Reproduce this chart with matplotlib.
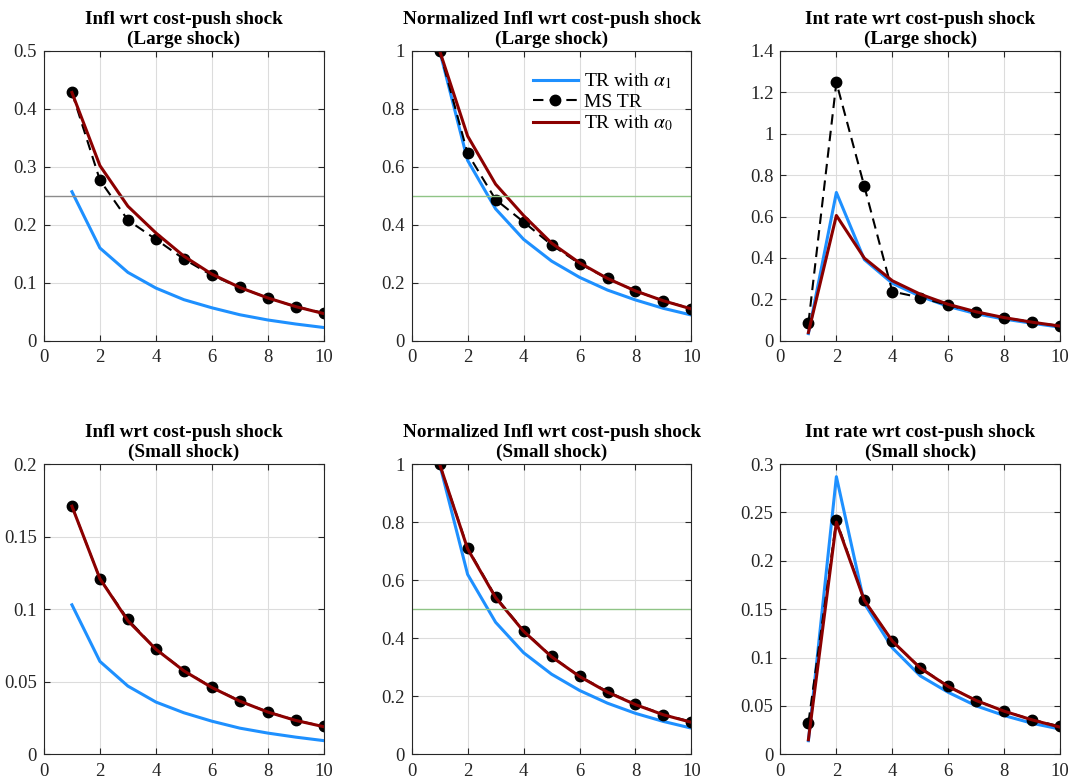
import matplotlib
matplotlib.use('Agg')
import matplotlib.pyplot as plt
from matplotlib.ticker import FuncFormatter, MultipleLocator

periods = [1, 2, 3, 4, 5, 6, 7, 8, 9, 10]

# Large shock
infl_large_a1 = [0.257, 0.160, 0.118, 0.091, 0.071, 0.057, 0.045, 0.036, 0.029, 0.023]
infl_large_ms = [0.428, 0.277, 0.208, 0.175, 0.141, 0.113, 0.092, 0.074, 0.059, 0.048]
infl_large_a0 = [0.428, 0.302, 0.232, 0.186, 0.146, 0.115, 0.092, 0.074, 0.059, 0.047]

norm_large_a1 = [1.0, 0.622, 0.455, 0.350, 0.275, 0.219, 0.175, 0.141, 0.112, 0.089]
norm_large_ms = [1.0, 0.646, 0.487, 0.410, 0.331, 0.266, 0.215, 0.172, 0.138, 0.111]
norm_large_a0 = [1.0, 0.706, 0.540, 0.432, 0.337, 0.269, 0.215, 0.172, 0.138, 0.110]

rate_large_a1 = [0.035, 0.716, 0.392, 0.278, 0.215, 0.166, 0.131, 0.105, 0.085, 0.066]
rate_large_ms = [0.085, 1.247, 0.745, 0.238, 0.209, 0.172, 0.138, 0.112, 0.090, 0.072]
rate_large_a0 = [0.040, 0.605, 0.399, 0.290, 0.225, 0.176, 0.140, 0.112, 0.090, 0.071]

# Small shock
infl_small_a1 = [0.103, 0.064, 0.047, 0.036, 0.0286, 0.0228, 0.018, 0.0146, 0.0118, 0.0094]
infl_small_ms = [0.171, 0.121, 0.093, 0.0725, 0.0577, 0.0462, 0.0367, 0.0292, 0.0234, 0.0192]
infl_small_a0 = [0.171, 0.121, 0.092, 0.0724, 0.0575, 0.0460, 0.0366, 0.0291, 0.0233, 0.0190]

norm_small_a1 = [1.0, 0.620, 0.455, 0.350, 0.276, 0.220, 0.176, 0.141, 0.113, 0.090]
norm_small_ms = [1.0, 0.711, 0.543, 0.426, 0.337, 0.269, 0.216, 0.172, 0.137, 0.112]
norm_small_a0 = [1.0, 0.708, 0.540, 0.424, 0.336, 0.268, 0.214, 0.171, 0.136, 0.110]

rate_small_a1 = [0.014, 0.287, 0.156, 0.110, 0.081, 0.064, 0.050, 0.040, 0.032, 0.026]
rate_small_ms = [0.0326, 0.242, 0.159, 0.117, 0.0895, 0.0703, 0.0555, 0.0446, 0.0357, 0.0288]
rate_small_a0 = [0.015, 0.240, 0.159, 0.117, 0.089, 0.070, 0.0555, 0.0445, 0.0355, 0.028]

plt.rcParams['font.family'] = ['Liberation Serif', 'DejaVu Serif']
plt.rcParams['mathtext.fontset'] = 'stix'

BLUE = '#1e90ff'
RED = '#8b0000'
AXCOL = '#262626'

fig = plt.figure(figsize=(10.72, 7.8), dpi=100)

lefts = [0.041, 0.384, 0.728]
bottoms = [0.563, 0.033]
width = 0.261
heights = [0.372, 0.372]


def panel(col, row, a1, ms, a0, title, ystep, ytop, hline=None, hcolor=None, legend=False):
    ax = fig.add_axes([lefts[col], bottoms[row], width, heights[row]])
    ax.plot(periods, a1, color=BLUE, lw=2.2, label=r'TR with $\alpha_1$')
    ax.plot(periods, ms, color='black', lw=1.5, ls=(0, (5, 3)), marker='o',
            markersize=7.5, label='MS TR')
    ax.plot(periods, a0, color=RED, lw=2.2, label=r'TR with $\alpha_0$')
    if hline is not None:
        ax.axhline(hline, color=hcolor, lw=1.0)
    ax.set_xlim(0, 10)
    ax.set_ylim(0, ytop)
    ax.xaxis.set_major_locator(MultipleLocator(2))
    ax.yaxis.set_major_locator(MultipleLocator(ystep))
    ax.yaxis.set_major_formatter(FuncFormatter(lambda v, p: '%g' % round(v, 6)))
    ax.grid(True, color='#dcdcdc', lw=0.8)
    ax.set_axisbelow(True)
    ax.tick_params(direction='in', top=True, right=True, labelsize=13.5,
                   colors=AXCOL, length=4, width=0.8)
    ax.tick_params(axis='x', pad=6)
    ax.tick_params(axis='y', pad=5)
    for s in ax.spines.values():
        s.set_color(AXCOL)
        s.set_linewidth(0.8)
    ax.set_title(title, fontsize=13.8, fontweight='bold', pad=5, linespacing=1.2)
    if legend:
        ax.legend(loc='upper right', frameon=False, fontsize=14, handlelength=2.3,
                  handletextpad=0.3, borderaxespad=0.3, labelspacing=0.12,
                  bbox_to_anchor=(0.98, 0.975))
    return ax


panel(0, 0, infl_large_a1, infl_large_ms, infl_large_a0,
      'Infl wrt cost-push shock\n(Large shock)', 0.1, 0.5, hline=0.25, hcolor='#8c8c8c')
panel(1, 0, norm_large_a1, norm_large_ms, norm_large_a0,
      'Normalized Infl wrt cost-push shock\n(Large shock)', 0.2, 1.0, hline=0.5,
      hcolor='#8fc486', legend=True)
panel(2, 0, rate_large_a1, rate_large_ms, rate_large_a0,
      'Int rate wrt cost-push shock\n(Large shock)', 0.2, 1.4)
panel(0, 1, infl_small_a1, infl_small_ms, infl_small_a0,
      'Infl wrt cost-push shock\n(Small shock)', 0.05, 0.2)
panel(1, 1, norm_small_a1, norm_small_ms, norm_small_a0,
      'Normalized Infl wrt cost-push shock\n(Small shock)', 0.2, 1.0, hline=0.5,
      hcolor='#8fc486')
panel(2, 1, rate_small_a1, rate_small_ms, rate_small_a0,
      'Int rate wrt cost-push shock\n(Small shock)', 0.05, 0.3)

fig.savefig('out.png', dpi=100)
